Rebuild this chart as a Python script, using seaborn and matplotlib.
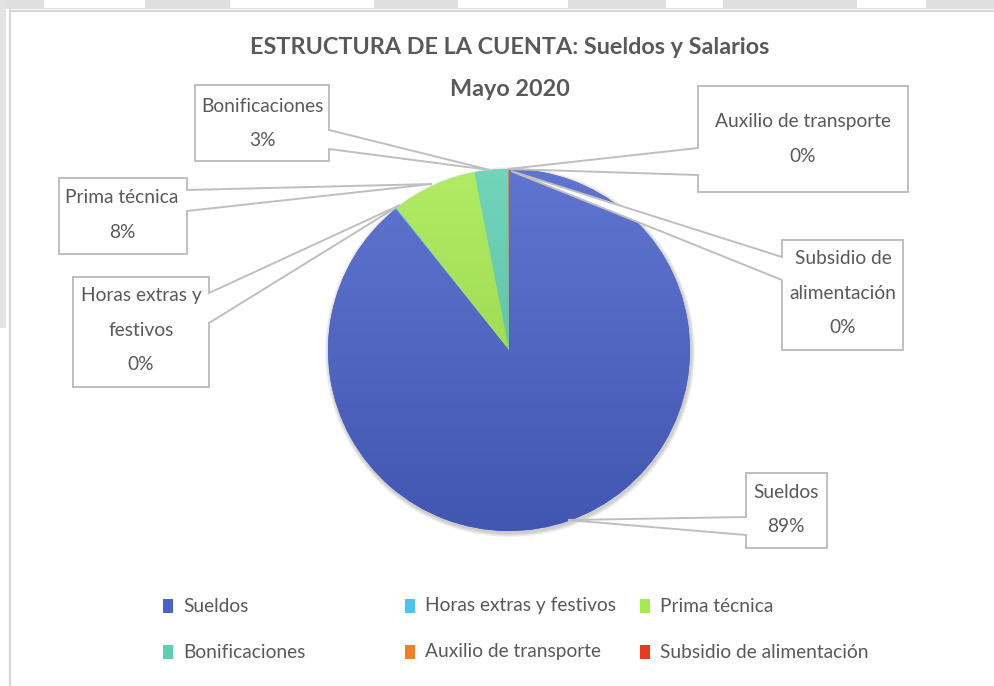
import numpy as np
import matplotlib
matplotlib.use("Agg")
import matplotlib.pyplot as plt
import seaborn as sns
from matplotlib.patches import Polygon, Rectangle, Circle
from matplotlib.colors import to_rgb

# ---------------- data ----------------
categories = ["Sueldos", "Horas extras y festivos", "Prima técnica",
              "Bonificaciones", "Auxilio de transporte", "Subsidio de alimentación"]
values = [89.25, 0.1, 7.6, 3.0, 0.02, 0.03]
label_names = [["Sueldos"], ["Horas extras y", "festivos"], ["Prima técnica"],
               ["Bonificaciones"], ["Auxilio de transporte"], ["Subsidio de", "alimentación"]]
colors = ["#4A62C9", "#4DC3EE", "#A6E94F", "#5ECFB1", "#F07F26", "#E83A1F"]
title_lines = ["ESTRUCTURA DE LA CUENTA: Sueldos y Salarios", "Mayo 2020"]

# ---------------- style ----------------
sns.set_theme(style="white")
plt.rcParams['font.family'] = ['Lato', 'DejaVu Sans']
TXT = "#595959"
EDGE = "#BFBFBF"
FS = 13.8

W, H = 995, 686
fig = plt.figure(figsize=(9.95, 6.86), dpi=100)
fig.patch.set_facecolor("white")
ax = fig.add_axes([0, 0, 1, 1])


def Y(y):
    return H - y


cx, cy, R = 509, 350, 181

# soft shadow
for i, a in enumerate([0.05, 0.05, 0.05, 0.05]):
    ax.add_patch(Circle((cx + 1, Y(cy) - 2), R + 1 + i, facecolor="black", alpha=a,
                        edgecolor="none", zorder=1))

wedges, _ = ax.pie(values, colors=colors, startangle=90, counterclock=False,
                   center=(cx, Y(cy)), radius=R, frame=True,
                   wedgeprops=dict(linewidth=0, zorder=2))

# vertical gradient inside each wedge
for w, c in zip(wedges, colors):
    base = np.array(to_rgb(c))
    top = base + (1 - base) * 0.12
    bot = base * 0.88
    t = np.linspace(0, 1, 256)[:, None, None]
    grad = bot[None, None, :] * (1 - t) + top[None, None, :] * t
    im = ax.imshow(grad, extent=(cx - R, cx + R, Y(cy) - R, Y(cy) + R),
                   origin="lower", aspect="auto", zorder=2.5, interpolation="bilinear")
    im.set_clip_path(w)

ax.set_xlim(0, W)
ax.set_ylim(0, H)
ax.set_aspect("equal")
ax.axis("off")

# ---------------- callouts ----------------
total = sum(values)
pcts = [f"{round(v / total * 100)}%" for v in values]

layout = {
    # box (x0, y0, x1, y1), side, pointer ys, anchor, center x, first line y
    0: ((746, 473, 827, 548), "left", (517, 535), (568, 520), 786, 492),
    1: ((73, 277, 209, 387), "right", (293, 323), (400, 205), 141, 296),
    2: ((59, 178, 187, 254), "right", (190, 211), (432, 184), 122, 198),
    3: ((195, 85, 329, 161), "right", (130, 149), (490, 170), 262, 106),
    4: ((698, 86, 908, 192), "left", (148, 175), (508, 169), 803, 122),
    5: ((782, 240, 903, 350), "left", (257, 280), (511, 171), 843, 259),
}
LINE = 34.5
for i in [1, 2, 3, 4, 5, 0]:
    (x0, y0, x1, y1), side, (ya, yb), anc, tx, ty = layout[i]
    if side == "right":
        verts = [(x0, y0), (x1, y0), (x1, ya), anc, (x1, yb), (x1, y1), (x0, y1)]
    else:
        verts = [(x0, y0), (x1, y0), (x1, y1), (x0, y1), (x0, yb), anc, (x0, ya)]
    verts = [(x, Y(y)) for x, y in verts]
    ax.add_patch(Polygon(verts, closed=True, facecolor="white", edgecolor=EDGE,
                         linewidth=1.4, zorder=5, joinstyle="miter"))
    lines = label_names[i] + [pcts[i]]
    for k, s in enumerate(lines):
        ax.text(tx, Y(ty + k * LINE), s, ha="center", va="center",
                fontsize=FS, color=TXT, zorder=6)

# ---------------- title ----------------
ax.text(510, Y(48), title_lines[0], ha="center", va="center", fontsize=16.8,
        fontweight="bold", color=TXT, zorder=6)
ax.text(510, Y(89), title_lines[1], ha="center", va="center", fontsize=16.8,
        fontweight="bold", color=TXT, zorder=6)

# ---------------- legend ----------------
leg_pos = [(163, 606), (405, 606), (640, 606), (163, 652), (405, 652), (640, 652)]
for (lx, ly), name, c in zip(leg_pos, categories, colors):
    ax.add_patch(Rectangle((lx, Y(ly) - 7), 10, 14, facecolor=c, edgecolor="none", zorder=6))
    ax.text(lx + 20, Y(ly), name, ha="left", va="center", fontsize=FS, color=TXT, zorder=6)

# ---------------- frame artifacts ----------------
ax.add_patch(Rectangle((0, Y(9)), W, 9, facecolor="#DFDFDF", edgecolor="none", zorder=7))
for a, b in [(44, 145), (230, 374), (458, 568), (666, 723), (857, 926)]:
    ax.add_patch(Rectangle((a, Y(8)), b - a, 8, facecolor="white", edgecolor="none", zorder=7.5))
ax.add_patch(Rectangle((0, Y(328)), 6, 328, facecolor="#E3E3E3", edgecolor="none", zorder=7))
ax.plot([10, 10], [0, Y(10)], color="#D6D6D6", lw=1.6, zorder=8)
ax.plot([10, W], [Y(11), Y(11)], color="#D6D6D6", lw=1.6, zorder=8)

fig.savefig("out.png", dpi=100, facecolor="white")
